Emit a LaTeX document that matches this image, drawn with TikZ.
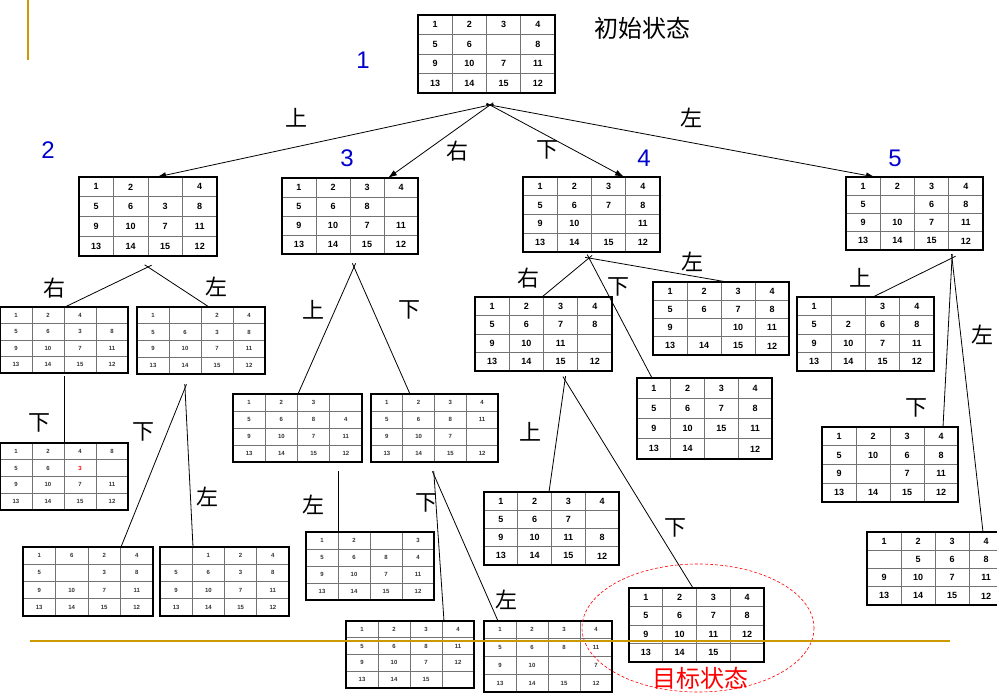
\documentclass[tikz,border=0pt]{standalone}
\usepackage{fontspec}
\setmainfont{Liberation Sans}
\newfontfamily\cjk{Noto Sans CJK SC}
\usetikzlibrary{arrows.meta}

\definecolor{gold}{RGB}{204,153,0}
\definecolor{numblue}{RGB}{0,0,204}

\tikzset{
  rim/.style={line width=2.4pt, black},
  inner/.style={line width=1pt, black!55},
  big/.style={font=\fontsize{9}{9}\selectfont\bfseries, inner sep=0pt},
  small/.style={font=\fontsize{6}{6}\selectfont\bfseries, inner sep=0pt, text=black!80},
  move/.style={font=\cjk\fontsize{22}{22}\selectfont, inner sep=0pt},
  tag/.style={font=\fontsize{24}{24}\selectfont, text=numblue, inner sep=0pt},
  edge/.style={line width=0.8pt, shorten <=-4pt},
  push/.style={edge, -{Latex[length=9pt,width=6pt]}},
}

% name, x, y, width, height, digit style, rows
\newcommand{\board}[7]{%
  \node[inner sep=0pt, outer sep=0pt, minimum width=#4, minimum height=#5,
        anchor=north west, fill=white] (#1) at (#2,#3) {};
  \foreach \k in {1,2,3} {
    \draw[inner] (#2+#4*\k/4, #3) -- (#2+#4*\k/4, #3+#5);
    \draw[inner] (#2, #3+#5*\k/4) -- (#2+#4, #3+#5*\k/4);
  }
  \foreach \row [count=\i] in {#7}
    \foreach \v [count=\j] in \row
      \node[#6] at (#2+#4*\j/4-#4/8, #3+#5*\i/4-#5/8) {\v};
  \draw[rim] (#2,#3) rectangle ++(#4,#5);
}

\begin{document}
\begin{tikzpicture}[x=1pt, y=-1pt]
\useasboundingbox (0,0) rectangle (997,694);

\board{b1}{418}{15}{137}{78}{big}{{1,2,3,4},{5,6,{},8},{9,10,7,11},{13,14,15,12}}

\board{b2}{79}{177}{138}{79}{big}{{1,2,{},4},{5,6,3,8},{9,10,7,11},{13,14,15,12}}
\board{b3}{282}{178}{136}{76}{big}{{1,2,3,4},{5,6,8,{}},{9,10,7,11},{13,14,15,12}}
\board{b4}{523}{177}{137}{75}{big}{{1,2,3,4},{5,6,7,8},{9,10,{},11},{13,14,15,12}}
\board{b5}{846}{177}{137}{73}{big}{{1,2,3,4},{5,{},6,8},{9,10,7,11},{13,14,15,12}}

\board{b21}{0}{307}{128}{66}{small}{{1,2,4,{}},{5,6,3,8},{9,10,7,11},{13,14,15,12}}
\board{b22}{137}{307}{128}{67}{small}{{1,{},2,4},{5,6,3,8},{9,10,7,11},{13,14,15,12}}
\board{b211}{0}{443}{128}{67}{small}{{1,2,4,8},{5,6,{\textcolor{red}{3}},{}},{9,10,7,11},{13,14,15,12}}
\board{b221}{23}{547}{130}{69}{small}{{1,6,2,4},{5,{},3,8},{9,10,7,11},{13,14,15,12}}
\board{b222}{160}{547}{129}{69}{small}{{{},1,2,4},{5,6,3,8},{9,10,7,11},{13,14,15,12}}

\board{b31}{233}{394}{129}{68}{small}{{1,2,3,{}},{5,6,8,4},{9,10,7,11},{13,14,15,12}}
\board{b32}{371}{394}{127}{68}{small}{{1,2,3,4},{5,6,8,11},{9,10,7,{}},{13,14,15,12}}
\board{b311}{306}{532}{128}{68}{small}{{1,2,{},3},{5,6,8,4},{9,10,7,11},{13,14,15,12}}
\board{b321}{346}{621}{128}{67}{small}{{1,2,3,4},{5,6,8,11},{9,10,7,12},{13,14,15,{}}}
\board{b322}{484}{621}{128}{71}{small}{{1,2,3,4},{5,6,8,11},{9,10,{},7},{13,14,15,12}}

\board{b41}{475}{297}{137}{74}{big}{{1,2,3,4},{5,6,7,8},{9,10,11,{}},{13,14,15,12}}
\board{b42}{637}{378}{135}{81}{big}{{1,2,3,4},{5,6,7,8},{9,10,15,11},{13,14,{},12}}
\board{b43}{653}{282}{136}{73}{big}{{1,2,3,4},{5,6,7,8},{9,{},10,11},{13,14,15,12}}
\board{b411}{484}{492}{135}{73}{big}{{1,2,3,4},{5,6,7,{}},{9,10,11,8},{13,14,15,12}}
\board{b412}{629}{588}{135}{74}{big}{{1,2,3,4},{5,6,7,8},{9,10,11,12},{13,14,15,{}}}

\board{b51}{797}{297}{137}{74}{big}{{1,{},3,4},{5,2,6,8},{9,10,7,11},{13,14,15,12}}
\board{b52}{822}{427}{136}{75}{big}{{1,2,3,4},{5,10,6,8},{9,{},7,11},{13,14,15,12}}
\board{b53}{867}{532}{136}{73}{big}{{1,2,3,4},{{},5,6,8},{9,10,7,11},{13,14,15,12}}

\coordinate (a1) at (490,105);
\coordinate (a2) at (148,267);
\coordinate (a21) at (64,380);
\coordinate (a22) at (185,388);
\coordinate (a3) at (354,267);
\coordinate (a31) at (338,475);
\coordinate (a32) at (434,475);
\coordinate (a4) at (589,258);
\coordinate (a41) at (565,380);
\coordinate (a5) at (952,258);

\draw[push] (a1) -- ([xshift=78pt]b2.north west);
\draw[push] (a1) -- ([xshift=106pt]b3.north west);
\draw[push] (a1) -- ([xshift=101pt]b4.north west);
\draw[push] (a1) -- ([xshift=29pt]b5.north west);

\draw[edge] (a2) -- ([xshift=65pt]b21.north west);
\draw[edge] (a2) -- ([xshift=72pt]b22.north west);
\draw[edge] (a21) -- ([xshift=64pt]b211.north west);
\draw[edge] (a22) -- ([xshift=98pt]b221.north west);
\draw[edge] (a22) -- ([xshift=33pt]b222.north west);

\draw[edge] (a3) -- ([xshift=65pt]b31.north west);
\draw[edge] (a3) -- ([xshift=39pt]b32.north west);
\draw[edge] (a31) -- ([xshift=32pt]b311.north west);
\draw[edge] (a32) -- ([xshift=98pt]b321.north west);
\draw[edge] (a32) -- ([xshift=14pt]b322.north west);

\draw[edge] (a4) -- ([xshift=67pt]b41.north west);
\draw[edge] (a4) -- ([xshift=15pt]b42.north west);
\draw[edge] (a4) -- ([xshift=74pt]b43.north west);
\draw[edge] (a41) -- ([xshift=65pt]b411.north west);
\draw[edge] (a41) -- ([xshift=64pt]b412.north west);

\draw[edge] (a5) -- ([xshift=76pt]b51.north west);
\draw[edge] (a5) -- ([xshift=121pt]b52.north west);
\draw[edge] (a5) -- ([xshift=116pt]b53.north west);

\node[move] (m1) at (296,118) {上};
\node[move] (m2) at (457,151) {右};
\node[move] (m3) at (547,150) {下};
\node[move] (m4) at (691,118) {左};
\node[move] (m21) at (54,288) {右};
\node[move] (m22) at (216,287) {左};
\node[move] (m211) at (39,423) {下};
\node[move] (m221) at (143,432) {下};
\node[move] (m222) at (207,497) {左};
\node[move] (m31) at (313,310) {上};
\node[move] (m32) at (409,310) {下};
\node[move] (m311) at (313,505) {左};
\node[move] (m321) at (426,503) {下};
\node[move] (m322) at (506,600) {左};
\node[move] (m41) at (528,278) {右};
\node[move] (m42) at (618,287) {下};
\node[move] (m43) at (692,262) {左};
\node[move] (m411) at (530,432) {上};
\node[move] (m412) at (675,528) {下};
\node[move] (m51) at (860,278) {上};
\node[move] (m52) at (916,408) {下};
\node[move] (m53) at (982,335) {左};

\node[tag] (t1) at (363,60) {1};
\node[tag] (t2) at (48,150) {2};
\node[tag] (t3) at (347,158) {3};
\node[tag] (t4) at (644,158) {4};
\node[tag] (t5) at (895,158) {5};

\node[move, font=\cjk\fontsize{24}{24}\selectfont] (start) at (642,28) {初始状态};
\node[move, font=\cjk\fontsize{24}{24}\selectfont, text=red] (goal) at (700,678) {目标状态};

\draw[red, dash pattern=on 3pt off 2pt, line width=0.6pt] (698,628) ellipse [x radius=116, y radius=64];
\draw[gold, line width=2pt] (28,0) -- (28,60);
\draw[gold, line width=2.5pt] (30,641) -- (950,641);

\end{tikzpicture}
\end{document}
